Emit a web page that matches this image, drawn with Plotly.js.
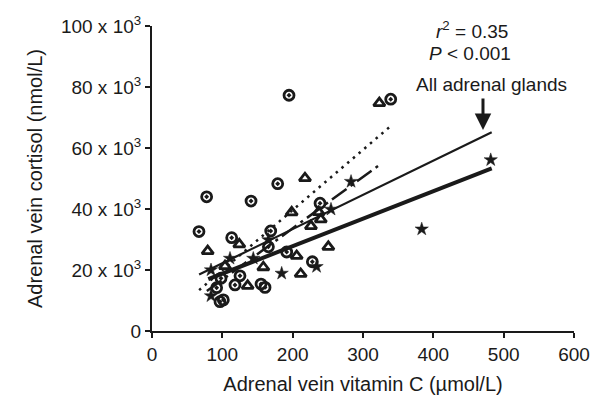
<!DOCTYPE html>
<html>
<head>
<meta charset="utf-8">
<script src="https://cdn.plot.ly/plotly-3.0.1.min.js"></script>
<style>html,body{margin:0;padding:0;background:#fff;}#chart{width:594px;height:406px;}</style>
</head>
<body>
<div id="chart"></div>
<script>
// Vitamin C (µmol/L) vs cortisol (nmol/L), three groups
const circleX = [194.8, 339.4, 77.7, 140.8, 178.7, 238.9, 66.8, 168.8, 113.3, 165.5, 191.5, 228, 125.1, 98.1, 91.9, 118, 155, 160.7, 96.7, 101.4];
const circleY = [77300, 76000, 44000, 42600, 48300, 41900, 32600, 32800, 30600, 27600, 25900, 22700, 18100, 17300, 14200, 15100, 15400, 14300, 9600, 10200];

const triangleX = [323.2, 217.5, 198.6, 237, 240, 226, 124.1, 79.2, 250.7, 205.7, 103.8, 158.3, 211.4, 136];
const triangleY = [74700, 50100, 38900, 39000, 36600, 34400, 28400, 26200, 27600, 24600, 21300, 20900, 18700, 14800];

const starX = [283, 481.6, 254.5, 110.9, 144, 165.5, 83.9, 83.9, 184.4, 234, 383.5];
const starY = [49000, 56100, 39900, 23800, 23800, 29900, 20000, 11500, 18900, 21100, 33400];

// fitted regression lines (end points)
const fitAllX = [67, 483];
const fitAllY = [18500, 65200];
const fitCircleX = [67, 341];
const fitCircleY = [13400, 67500];
const fitTriangleX = [78, 323];
const fitTriangleY = [13100, 54400];
const fitStarX = [80, 483];
const fitStarY = [17000, 53300];

const xTickVals = [0, 100, 200, 300, 400, 500, 600];
const yTickVals = [0, 20000, 40000, 60000, 80000, 100000];
const yTickText = ['0', '20 x 10<sup>3</sup>', '40 x 10<sup>3</sup>', '60 x 10<sup>3</sup>', '80 x 10<sup>3</sup>', '100 x 10<sup>3</sup>'];

const ink = '#1a1a1a';
const font = 'Liberation Sans, Arial, Helvetica, sans-serif';

const traces = [
  {x: fitCircleX, y: fitCircleY, mode: 'lines', line: {color: ink, width: 2.5, dash: '2.5px,5px'}, hoverinfo: 'skip'},
  {x: fitTriangleX, y: fitTriangleY, mode: 'lines', line: {color: ink, width: 2.5, dash: '18px,5px,3px,5px'}, hoverinfo: 'skip'},
  {x: fitStarX, y: fitStarY, mode: 'lines', line: {color: ink, width: 4}, hoverinfo: 'skip'},
  {x: fitAllX, y: fitAllY, mode: 'lines', line: {color: ink, width: 2.2}, hoverinfo: 'skip'},
  {x: circleX, y: circleY, mode: 'markers', marker: {symbol: 'circle-open-dot', size: 10, color: ink, line: {width: 2.8, color: ink}}},
  {x: triangleX, y: triangleY, mode: 'markers', marker: {symbol: 'triangle-up-open', size: 10, color: ink, line: {width: 2.8, color: ink}}},
  {x: starX, y: starY, mode: 'markers', marker: {symbol: 'star', size: 10, color: ink, line: {width: 0.5, color: ink}}}
];

const layout = {
  width: 594, height: 406,
  margin: {l: 152, r: 20, t: 26, b: 75, pad: 0},
  paper_bgcolor: '#fff', plot_bgcolor: '#fff',
  showlegend: false,
  font: {family: font, color: ink, size: 19},
  xaxis: {
    range: [0, 600], tickvals: xTickVals, ticks: 'outside', ticklen: 5, tickwidth: 2,
    showline: true, linewidth: 2, linecolor: ink, tickcolor: ink,
    showgrid: false, zeroline: false, tickfont: {size: 19, family: font, color: ink},
    title: {text: 'Adrenal vein vitamin C (µmol/L)', font: {size: 20, family: font, color: ink}, standoff: 13}
  },
  yaxis: {
    range: [0, 100000], tickvals: yTickVals, ticktext: yTickText, ticks: 'outside', ticklen: 5, tickwidth: 2,
    showline: true, linewidth: 2, linecolor: ink, tickcolor: ink,
    showgrid: false, zeroline: false, tickfont: {size: 19, family: font, color: ink},
    title: {text: 'Adrenal vein cortisol (nmol/L)', font: {size: 20, family: font, color: ink}, standoff: 13}
  },
  annotations: [
    {x: 455, y: 98700, xref: 'x', yref: 'y', text: '<i>r</i><sup>2</sup> = 0.35', showarrow: false, font: {size: 19, family: font, color: ink}},
    {x: 452, y: 91100, xref: 'x', yref: 'y', text: '<i>P</i> < 0.001', showarrow: false, font: {size: 19, family: font, color: ink}},
    {x: 483, y: 80700, xref: 'x', yref: 'y', text: 'All adrenal glands', showarrow: false, font: {size: 19, family: font, color: ink}},
    {x: 470.6, y: 65900, xref: 'x', yref: 'y', ax: 0, ay: -33, text: '', showarrow: true, arrowhead: 2, arrowsize: 1.1, arrowwidth: 3, arrowcolor: ink}
  ]
};

Plotly.newPlot('chart', traces, layout, {displayModeBar: false, staticPlot: true});
</script>
</body>
</html>
